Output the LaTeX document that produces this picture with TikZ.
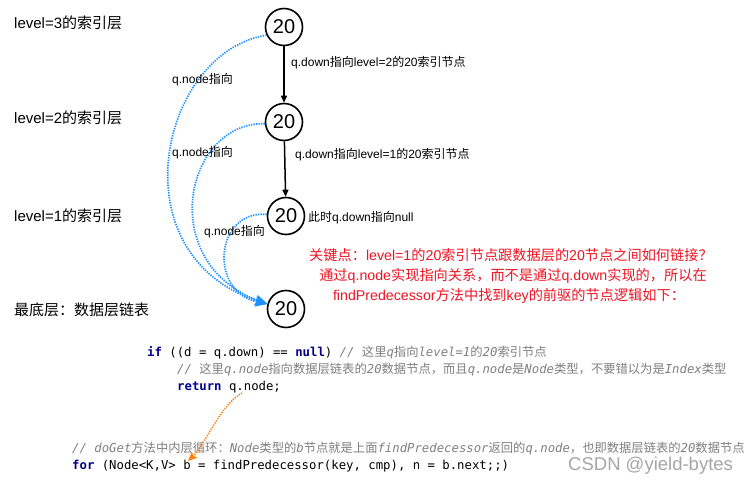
\documentclass[tikz,border=0pt]{standalone}
\usepackage{fontspec}
\setmainfont{Liberation Sans}
\newfontfamily\cjk{Noto Sans CJK SC}
\newfontfamily\codefont{DejaVu Sans Mono}
\usetikzlibrary{arrows.meta}
\definecolor{qblue}{RGB}{30,144,255}
\definecolor{qorange}{RGB}{255,130,20}
\definecolor{keyred}{RGB}{240,20,35}
\definecolor{kwblue}{RGB}{0,0,140}
\definecolor{cmgray}{RGB}{128,128,128}
\newcommand\zh[1]{{\cjk\upshape #1}}
\newcommand\kw[1]{{\color{kwblue}\bfseries #1}}
\newcommand\cm[1]{{\color{cmgray}\itshape #1}}
\tikzset{
  circ/.style={circle, draw, line width=1.6pt, minimum size=37pt, inner sep=0pt, font=\fontsize{20}{20}\selectfont},
  lvl/.style={anchor=west, inner sep=0pt, font=\fontsize{15}{15}\selectfont},
  small/.style={anchor=west, inner sep=0pt, font=\fontsize{12}{12}\selectfont},
  redtxt/.style={inner sep=0pt, text=keyred, font=\fontsize{14.2}{14.2}\selectfont},
  code/.style={anchor=west, inner sep=0pt, font=\codefont\fontsize{12.3}{12.3}\selectfont},
  downarrow/.style={-{Triangle[length=7pt,width=6pt]}, line width=1.5pt},
  qnodeline/.style={draw=qblue, line width=1.7pt, dash pattern=on 1.3pt off 1.2pt, -{Stealth[length=12pt,width=10pt,inset=2pt,fill=qblue]}},
  orangeline/.style={draw=qorange, line width=1.5pt, dash pattern=on 1.3pt off 1.2pt, -{Stealth[length=9pt,width=8pt,inset=1.5pt,fill=qorange]}}
}
\begin{document}
\begin{tikzpicture}[x=1pt,y=-1pt]
\fill[white] (0,0) rectangle (755,487);
\useasboundingbox (0,0) rectangle (755,487);

% level labels
\node[lvl] (L3) at (14,23) {level=3\zh{的索引层}};
\node[lvl] (L2) at (14,118) {level=2\zh{的索引层}};
\node[lvl] (L1) at (14,216) {level=1\zh{的索引层}};
\node[lvl] (L0) at (14,310) {\zh{最底层：数据层链表}};

% circles
\node[circ] (n3) at (284,27) {20};
\node[circ] (n2) at (284,122) {20};
\node[circ] (n1) at (286,216) {20};
\node[circ] (n0) at (286,309) {20};

% down arrows
\draw[downarrow] (n3) -- (n2);
\draw[downarrow] (n2) -- (n1);

\node[small] (d2) at (291,63) {q.down\zh{指向}level=2\zh{的}20\zh{索引节点}};
\node[small] (d1) at (295,155) {q.down\zh{指向}level=1\zh{的}20\zh{索引节点}};
\node[small] (dn) at (308,218) {\zh{此时}q.down\zh{指向}null};

% q.node curves
\draw[qnodeline] (n3.205) .. controls (160,52) and (115,255) .. (n0.165);
\draw[qnodeline] (n2.185) .. controls (185,122) and (155,262) .. (n0.165);
\draw[qnodeline] (n1.175) .. controls (215,210) and (208,292) .. (n0.165);

\node[small] (q3) at (172,80) {q.node\zh{指向}};
\node[small] (q2) at (172,153) {q.node\zh{指向}};
\node[small] (q1) at (204,232) {q.node\zh{指向}};

% red explanation
\node[redtxt] (r1) at (511,255) {\zh{关键点：}level=1\zh{的}20\zh{索引节点跟数据层的}20\zh{节点之间如何链接？}};
\node[redtxt] (r2) at (513,276) {\zh{通过}q.node\zh{实现指向关系，而不是通过}q.down\zh{实现的，所以在}};
\node[redtxt] (r3) at (509,296) {findPredecessor\zh{方法中找到}key\zh{的前驱的节点逻辑如下：}};

% code
\node[code] (c1) at (147,353) {\kw{if} ((d = q.down) == \kw{null}) \cm{// \zh{这里}q\zh{指向}level=1\zh{的}20\zh{索引节点}}};
\node[code] (c2) at (177,370) {\cm{// \zh{这里}q.node\zh{指向数据层链表的}20\zh{数据节点，而且}q.node\zh{是}Node\zh{类型，不要错以为是}Index\zh{类型}}};
\node[code] (c3) at (177,387) {\kw{return} q.node;};
\node[code] (c4) at (72,449) {\cm{// doGet\zh{方法中内层循环：}Node\zh{类型的}b\zh{节点就是上面}findPredecessor\zh{返回的}q.node\zh{，也即数据层链表的}20\zh{数据节点}}};
\node[code] (c5) at (72,466) {\kw{for} (Node<K,V> b = findPredecessor(key, cmp), n = b.next;;)};

\coordinate (qsrc) at (242,393);
\coordinate (bdst) at (188,461);
\draw[orangeline] (qsrc) .. controls (220,405) and (205,445) .. (bdst);

% watermark
\node[anchor=west, inner sep=0pt, text=black!35, font=\fontsize{18.5}{18.5}\selectfont] (wm) at (568,466) {CSDN @yield-bytes};
\end{tikzpicture}
\end{document}
